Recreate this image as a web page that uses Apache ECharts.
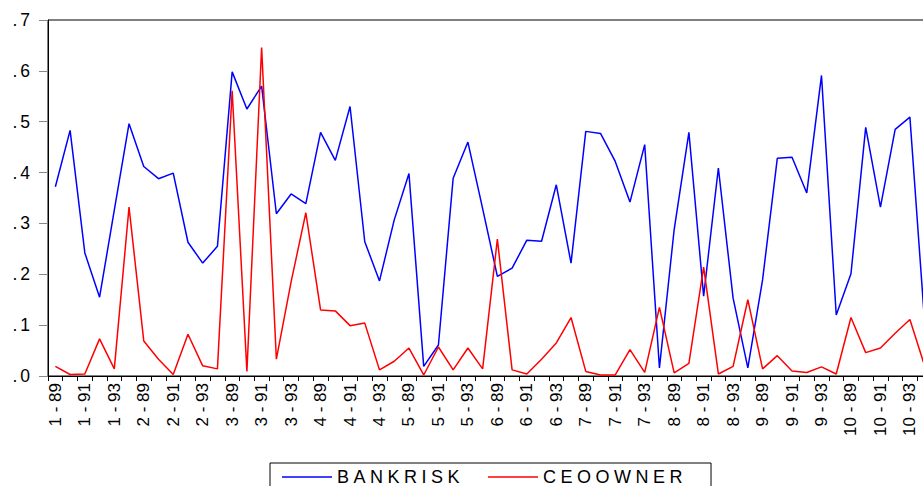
<!DOCTYPE html>
<html>
<head>
<meta charset="utf-8">
<script src="https://cdn.jsdelivr.net/npm/echarts@6/dist/echarts.min.js"></script>
<style>
  html, body { margin: 0; padding: 0; background: #fff; overflow: hidden; width: 923px; height: 486px; }
  #chart { width: 932px; height: 486px; }
  #chart svg text[style*="17.5px"] { letter-spacing: 3px; }
  #chart svg text[style*="18px"] { letter-spacing: 4.5px; }
</style>
</head>
<body>
<div id="chart"></div>
<script>
const sections = [1, 2, 3, 4, 5, 6, 7, 8, 9, 10];
const years = [89, 90, 91, 92, 93, 94];
const yTicks = [0, 0.1, 0.2, 0.3, 0.4, 0.5, 0.6, 0.7];

const bankrisk = [
  0.372, 0.483, 0.242, 0.155, 0.326, 0.496,
  0.412, 0.388, 0.399, 0.263, 0.222, 0.255,
  0.598, 0.525, 0.570, 0.319, 0.358, 0.339,
  0.479, 0.424, 0.530, 0.264, 0.187, 0.307,
  0.398, 0.019, 0.061, 0.389, 0.460, 0.329,
  0.196, 0.212, 0.267, 0.265, 0.376, 0.222,
  0.481, 0.477, 0.422, 0.342, 0.455, 0.016,
  0.288, 0.479, 0.157, 0.409, 0.153, 0.016,
  0.189, 0.428, 0.430, 0.360, 0.591, 0.120,
  0.201, 0.489, 0.332, 0.485, 0.509, 0.105
];
const ceoowner = [
  0.019, 0.003, 0.004, 0.073, 0.014, 0.332,
  0.069, 0.033, 0.003, 0.082, 0.020, 0.014,
  0.561, 0.009, 0.646, 0.033, 0.185, 0.321,
  0.130, 0.128, 0.099, 0.104, 0.012, 0.029,
  0.055, 0.002, 0.057, 0.012, 0.055, 0.014,
  0.269, 0.012, 0.004, 0.033, 0.065, 0.115,
  0.009, 0.002, 0.002, 0.052, 0.007, 0.135,
  0.006, 0.025, 0.214, 0.004, 0.019, 0.150,
  0.014, 0.040, 0.010, 0.007, 0.018, 0.004,
  0.115, 0.046, 0.055, 0.084, 0.111, 0.020
];

const categories = [];
sections.forEach(s => years.forEach(y => categories.push(s + ' - ' + y)));

const FONT = 'Liberation Sans, Arial, sans-serif';
const chart = echarts.init(document.getElementById('chart'), null, { renderer: 'svg' });
chart.setOption({
  animation: false,
  backgroundColor: '#fff',
  textStyle: { fontFamily: FONT },
  grid: {
    left: 48, right: 0, top: 20, bottom: 110,
    show: true, borderColor: '#000', borderWidth: 1
  },
  legend: {
    left: 270, top: 463,
    padding: [5, 60, 12, 12],
    itemGap: 60,
    itemWidth: 50, itemHeight: 1.5,
    icon: 'rect',
    borderColor: '#000', borderWidth: 1,
    textStyle: { fontSize: 18, color: '#000', fontFamily: FONT },
    data: ['BANKRISK', 'CEOOWNER']
  },
  xAxis: {
    type: 'category',
    data: categories,
    boundaryGap: true,
    axisLine: { lineStyle: { color: '#000', width: 1 } },
    axisTick: { show: true, interval: 0, length: 5, lineStyle: { color: '#000' } },
    axisLabel: {
      interval: 1, rotate: 90, margin: 7,
      fontSize: 17, color: '#000', fontFamily: FONT
    },
    splitLine: { show: false }
  },
  yAxis: {
    type: 'value',
    min: yTicks[0], max: yTicks[yTicks.length - 1], interval: 0.1,
    axisLine: { show: true, lineStyle: { color: '#000', width: 1 } },
    axisTick: { show: true, length: 9, lineStyle: { color: '#888' } },
    axisLabel: {
      margin: 15, fontSize: 17.5, color: '#000', fontFamily: FONT,
      formatter: v => v.toFixed(1).replace(/^0/, '')
    },
    splitLine: { show: false }
  },
  series: [
    {
      name: 'BANKRISK', type: 'line', data: bankrisk,
      symbol: 'none', lineStyle: { color: '#0000ff', width: 1.5 }, itemStyle: { color: '#0000ff' }
    },
    {
      name: 'CEOOWNER', type: 'line', data: ceoowner,
      symbol: 'none', lineStyle: { color: '#ff0000', width: 1.5 }, itemStyle: { color: '#ff0000' }
    }
  ]
});
</script>
</body>
</html>
